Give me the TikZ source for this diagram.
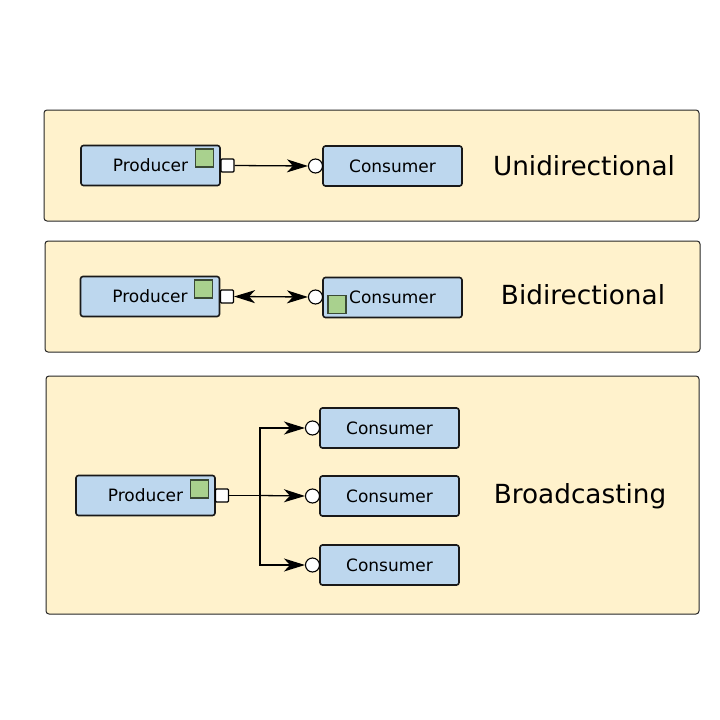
\documentclass[tikz,border=0pt]{standalone}
\usepackage{fontspec}
\setmainfont{DejaVu Sans}
\usetikzlibrary{arrows.meta}
\definecolor{panelfill}{HTML}{FFF2CC}
\definecolor{boxfill}{HTML}{BDD7EE}
\definecolor{greenfill}{HTML}{A9D18E}
\definecolor{greenline}{HTML}{3A4A35}
\begin{document}
\begin{tikzpicture}[x=1pt,y=-1pt,
  panel/.style={draw=black!85,line width=1pt,fill=panelfill,rounded corners=3pt},
  comp/.style={draw=black!90,line width=1.6pt,fill=boxfill,rounded corners=2.5pt,minimum width=139pt,minimum height=40pt,inner sep=0pt,font=\fontsize{17}{19}\selectfont},
  gsq/.style={draw=greenline,line width=1.1pt,fill=greenfill,minimum size=18pt,inner sep=0pt},
  port/.style={draw=black,line width=1.1pt,fill=white,minimum size=13pt,inner sep=0pt,rounded corners=1pt},
  sock/.style={draw=black,line width=1.1pt,fill=white,circle,minimum size=14pt,inner sep=0pt},
  title/.style={font=\fontsize{26.3}{30}\selectfont},
  conn/.style={line width=1.3pt,-{Stealth[length=21pt,width=13pt,inset=6pt]}},
  bconn/.style={line width=1.3pt,{Stealth[length=21pt,width=13pt,inset=6pt]}-{Stealth[length=21pt,width=13pt,inset=6pt]}}
]
\useasboundingbox (0,0) rectangle (720,720);
\fill[white] (0,0) rectangle (720,720);
% panels
\draw[panel] (44,110) rectangle (699,221);
\draw[panel] (45,241) rectangle (700,352);
\draw[panel] (46,376) rectangle (699,614);

% Unidirectional
\node[comp] (p1) at (150.5,165.5) {Producer};
\node[gsq] (g1) at (204.5,158) {};
\node[port] (pp1) at (227.5,165.5) {};
\node[comp] (c1) at (392.5,166) {Consumer};
\node[sock] (s1) at (315.5,166) {};
\draw[conn] (pp1.east) -- (s1.west);
\node[title] (t1) at (584,166) {Unidirectional};

% Bidirectional
\node[comp] (p2) at (150,296.5) {Producer};
\node[gsq] (g2) at (203.5,289) {};
\node[port] (pp2) at (227,296.5) {};
\node[comp] (c2) at (392.5,297.5) {Consumer};
\node[sock] (s2) at (315.5,297) {};
\node[gsq] (g2c) at (337,304.5) {};
\draw[bconn] (pp2.east) -- (s2.west);
\node[title] (t2) at (583,295) {Bidirectional};

% Broadcasting
\node[comp] (p3) at (145.5,495.5) {Producer};
\node[gsq] (g3) at (199.5,489) {};
\node[port] (pp3) at (222,495.5) {};
\node[comp] (c3a) at (389.5,428) {Consumer};
\node[comp] (c3b) at (389.5,496) {Consumer};
\node[comp] (c3c) at (389.5,565) {Consumer};
\node[sock] (s3a) at (312.5,428) {};
\node[sock] (s3b) at (312.5,496) {};
\node[sock] (s3c) at (312.5,565) {};
\coordinate (j) at (260,495.5);
\draw[line width=1.3pt] (pp3.east) -- (j);
\draw[conn] (j) -- (s3b.west);
\draw[conn] (j) |- (s3a.west);
\draw[conn] (j) |- (s3c.west);
\node[title] (t3) at (580,496.5) {Broadcasting};
\end{tikzpicture}
\end{document}
